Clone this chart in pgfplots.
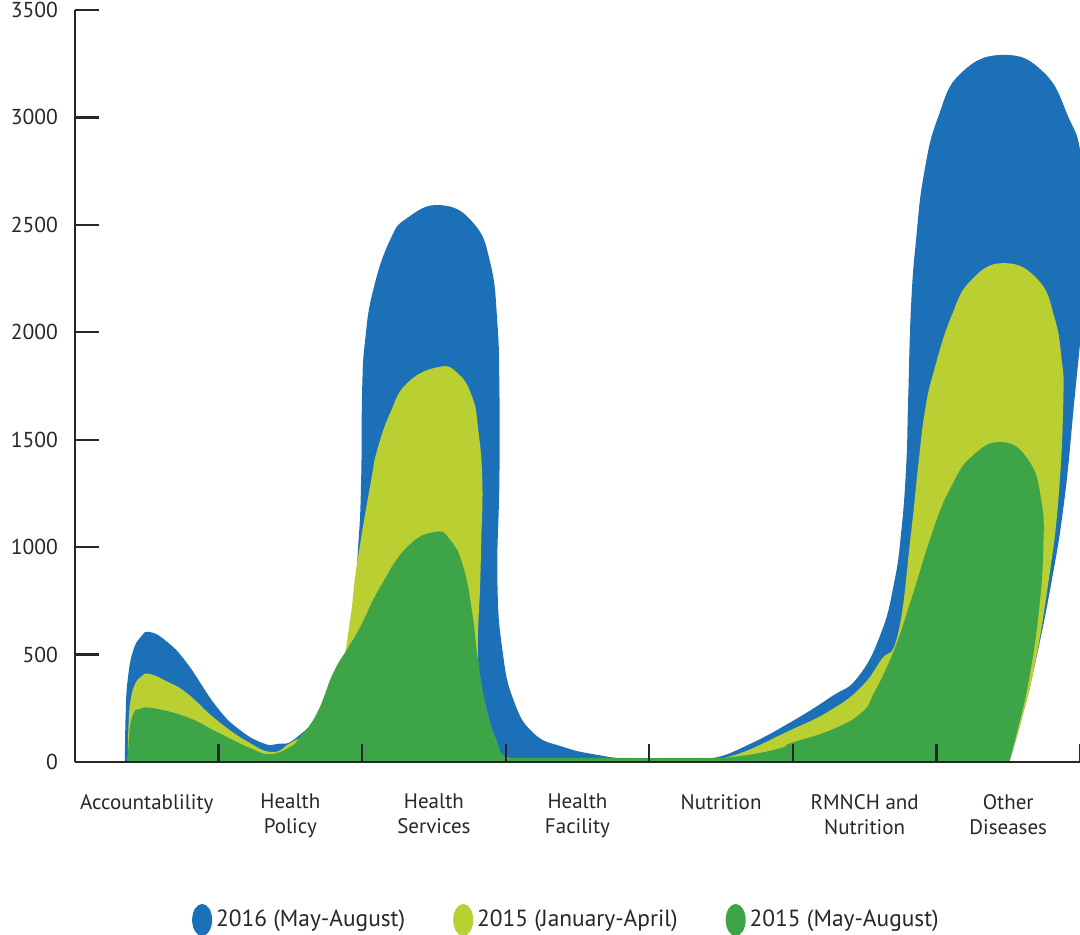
\documentclass[border=0pt]{standalone}
\usepackage{pgfplots}
\pgfplotsset{compat=1.18}
\usepackage{fontspec}
\setmainfont{PT Sans}
\definecolor{cblue}{RGB}{27,112,184}
\definecolor{cyell}{RGB}{186,207,50}
\definecolor{cgreen}{RGB}{61,165,72}
\definecolor{axgray}{RGB}{40,38,40}
\begin{document}
\begin{tikzpicture}
\useasboundingbox (-37.5pt,-86pt) rectangle (502.5pt,381pt);
\begin{axis}[
    scale only axis,
    width=502.5pt, height=376pt,
    xmin=-0.5, xmax=6.5,
    ymin=0, ymax=3500,
    axis on top,
    axis x line=bottom, axis y line=left,
    axis line style={-, line width=1.2pt, draw=axgray},
    tick style={line width=1.2pt, draw=axgray},
    tick align=inside,
    ytick={0,500,...,3500},
    xtick={0.5,1.5,...,6.5},
    xticklabels={},
    major tick length=12pt,
    xtick style={/pgfplots/major tick length=9pt},
    extra x ticks={0,1,2,3,4,5,6},
    extra x tick labels={Accountablility,{Health\\Policy},{Health\\Services},{Health\\Facility},Nutrition,{RMNCH and\\Nutrition},{Other\\Diseases}},
    extra x tick style={tick style={draw=none}},
    xticklabel style={align=center, yshift=-12.5pt, font=\fontsize{10.5}{12.5}\selectfont, text=axgray},
    yticklabel style={xshift=-5pt, font=\fontsize{10.8}{12.5}\selectfont, text=axgray},
    /pgf/number format/assume math mode=true,
    /pgf/number format/1000 sep={},
    clip=true,
    legend image code/.code={\fill[#1] (5pt,0pt) ellipse (5pt and 8pt);},
    legend style={at={(0.49,-0.21)}, anchor=center, draw=none, fill=none,
        legend columns=-1, font=\fontsize{11.7}{14}\selectfont, text=axgray,
        /tikz/every even column/.append style={column sep=22pt}},
]
% 2016 (May-August)
\addplot[draw=none, fill=cblue, smooth, tension=0.8] coordinates {
(-0.153,0) (-0.147,228) (-0.133,382) (-0.098,512) (-0.042,582) (0.021,605)
(0.140,560) (0.279,461)
(0.488,256) (0.649,149) (0.809,88) (0.907,84) (1.047,116) (1.277,289)
(1.416,568) (1.472,1001) (1.493,1313) (1.500,1731) (1.521,1964) (1.577,2197)
(1.695,2430) (1.814,2532) (2.044,2592) (2.274,2509)
(2.393,2322) (2.442,2043)
(2.456,1731) (2.456,1313) (2.442,847) (2.477,521) (2.554,289) (2.693,135)
(2.902,70) (3.140,33) (3.370,14) (3.719,9) (3.949,19) (4.186,79)
(4.486,186) (4.765,303) (4.954,396) (5.114,600) (5.205,833)
(5.254,1066) (5.289,1373) (5.303,1685) (5.323,2118) (5.358,2430) (5.414,2741)
(5.512,3002) (5.672,3207) (5.972,3291) (6.251,3207)
(6.419,3002) (6.509,2816)
(6.565,2430) (6.509,2011) (6.461,1685) (6.391,1219) (6.300,833) (6.182,442)
(6.091,195) (6.007,0)
} \closedcycle;
\addlegendentry{2016 (May-August)}
% 2015 (January-April)
\addplot[draw=none, fill=cyell, smooth, tension=0.8] coordinates {
(-0.133,0) (-0.126,195) (-0.112,290) (-0.084,360) (-0.035,400) (0.021,410)
(0.140,375) (0.279,321)
(0.488,195) (0.719,88) (0.879,47) (0.998,88) (1.137,149) (1.250,260)
(1.347,396) (1.416,661) (1.465,926) (1.563,1313) (1.605,1452) (1.695,1624)
(1.814,1764) (2.030,1838) (2.163,1811) (2.267,1699) (2.309,1545) (2.337,1313)
(2.330,1033) (2.323,847) (2.309,461) (2.372,228) (2.442,88) (2.498,23)
(2.881,14) (3.719,9) (4.047,23) (4.486,149) (4.765,242)
(4.975,349) (5.114,475) (5.233,600) (5.323,1066) (5.372,1373) (5.421,1638)
(5.484,1824) (5.602,2071) (5.742,2243) (5.972,2322) (6.209,2243) (6.321,2071)
(6.370,1885) (6.384,1685) (6.349,1219) (6.279,833) (6.182,442) (6.091,195)
(6.007,0)
} \closedcycle;
\addlegendentry{2015 (January-April)}
% 2015 (May-August)
\addplot[draw=none, fill=cgreen, smooth, tension=0.8] coordinates {
(-0.133,0) (-0.119,149) (-0.091,228) (-0.049,247) (0.042,251) (0.279,209)
(0.488,140) (0.719,65) (0.858,37) (0.998,70) (1.067,116) (1.186,228)
(1.298,414) (1.400,530) (1.486,628) (1.626,815) (1.814,1001) (2.009,1071)
(2.114,1033) (2.205,908) (2.267,693) (2.309,461) (2.372,228) (2.442,88)
(2.498,23) (2.602,19) (3.160,19) (3.858,19) (4.137,28) (4.416,65)
(4.486,88) (4.765,149) (4.975,228) (5.065,321) (5.205,521)
(5.323,754) (5.484,1094) (5.602,1280) (5.742,1420) (5.951,1489) (6.140,1406)
(6.230,1219) (6.244,987) (6.209,675) (6.140,368) (6.070,163) (6.007,0)
} \closedcycle;
\addlegendentry{2015 (May-August)}
\end{axis}
\end{tikzpicture}
\end{document}
